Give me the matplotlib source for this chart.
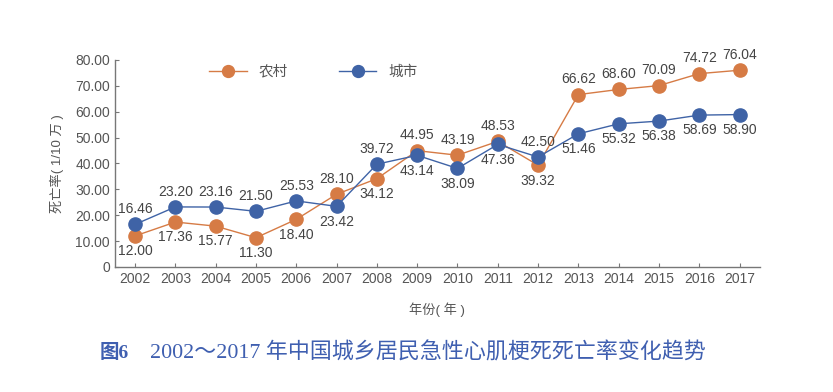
import matplotlib.pyplot as plt

plt.rcParams['font.family'] = ['Liberation Sans', 'Noto Sans CJK SC', 'DejaVu Sans']

years = list(range(2002, 2018))
rural = [12.00, 17.36, 15.77, 11.30, 18.40, 28.10, 34.12, 44.95, 43.19, 48.53,
         39.32, 66.62, 68.60, 70.09, 74.72, 76.04]
urban = [16.46, 23.20, 23.16, 21.50, 25.53, 23.42, 39.72, 43.14, 38.09, 47.36,
         42.50, 51.46, 55.32, 56.38, 58.69, 58.90]
yticks = [0, 10, 20, 30, 40, 50, 60, 70, 80]

orange = '#D67B45'
blue = '#3F63A6'
gray = '#555555'

fig = plt.figure(figsize=(8.33, 3.92), dpi=100)
ax = fig.add_axes([0.138, 0.319, 0.774, 0.528])

ax.plot(years, rural, color=orange, lw=1, marker='o', ms=9.5, label='农村')
ax.plot(years, urban, color=blue, lw=1, marker='o', ms=9.5, label='城市')

# labels: higher value above, lower below
for x, r, u in zip(years, rural, urban):
    hi, lo = (r, u) if r > u else (u, r)
    ax.annotate(f'{hi:.2f}', (x, hi), xytext=(0, 6), textcoords='offset points',
                ha='center', va='bottom', fontsize=10, color='#444444')
    ax.annotate(f'{lo:.2f}', (x, lo), xytext=(0, -6), textcoords='offset points',
                ha='center', va='top', fontsize=10, color='#444444')

ax.set_xlim(2001.5, 2017.5)
ax.set_ylim(0, 80)
ax.set_xticks(years)
ax.set_yticks(yticks)
ax.set_yticklabels(['0'] + [f'{v:.2f}' for v in yticks[1:]])
ax.tick_params(direction='in', length=3, colors='#777777', labelcolor=gray, labelsize=10)
for s in ['top', 'right']:
    ax.spines[s].set_visible(False)
for s in ['left', 'bottom']:
    ax.spines[s].set_color('#777777')
    ax.spines[s].set_linewidth(1)

ax.set_ylabel('死亡率( 1/10 万 )', fontsize=9.5, color=gray, labelpad=8)
ax.set_xlabel('年份( 年 )', fontsize=9.5, color=gray, labelpad=12)

ax.legend(loc='upper left', bbox_to_anchor=(0.125, 1.04), ncol=2, frameon=False,
          fontsize=10.5, labelcolor=gray, columnspacing=3.5, handlelength=2.6,
          markerscale=0.9)

cap = ['Liberation Serif', 'Noto Sans CJK SC']
fig.text(0.12, 0.1, '图6', fontsize=14, color='#3F5FB0', fontweight='bold',
         va='center', family=cap)
fig.text(0.18, 0.1, '2002～2017 年中国城乡居民急性心肌梗死死亡率变化趋势',
         fontsize=15.8, color='#3F5FB0', va='center', family=cap)

fig.savefig('out.png', dpi=100)
